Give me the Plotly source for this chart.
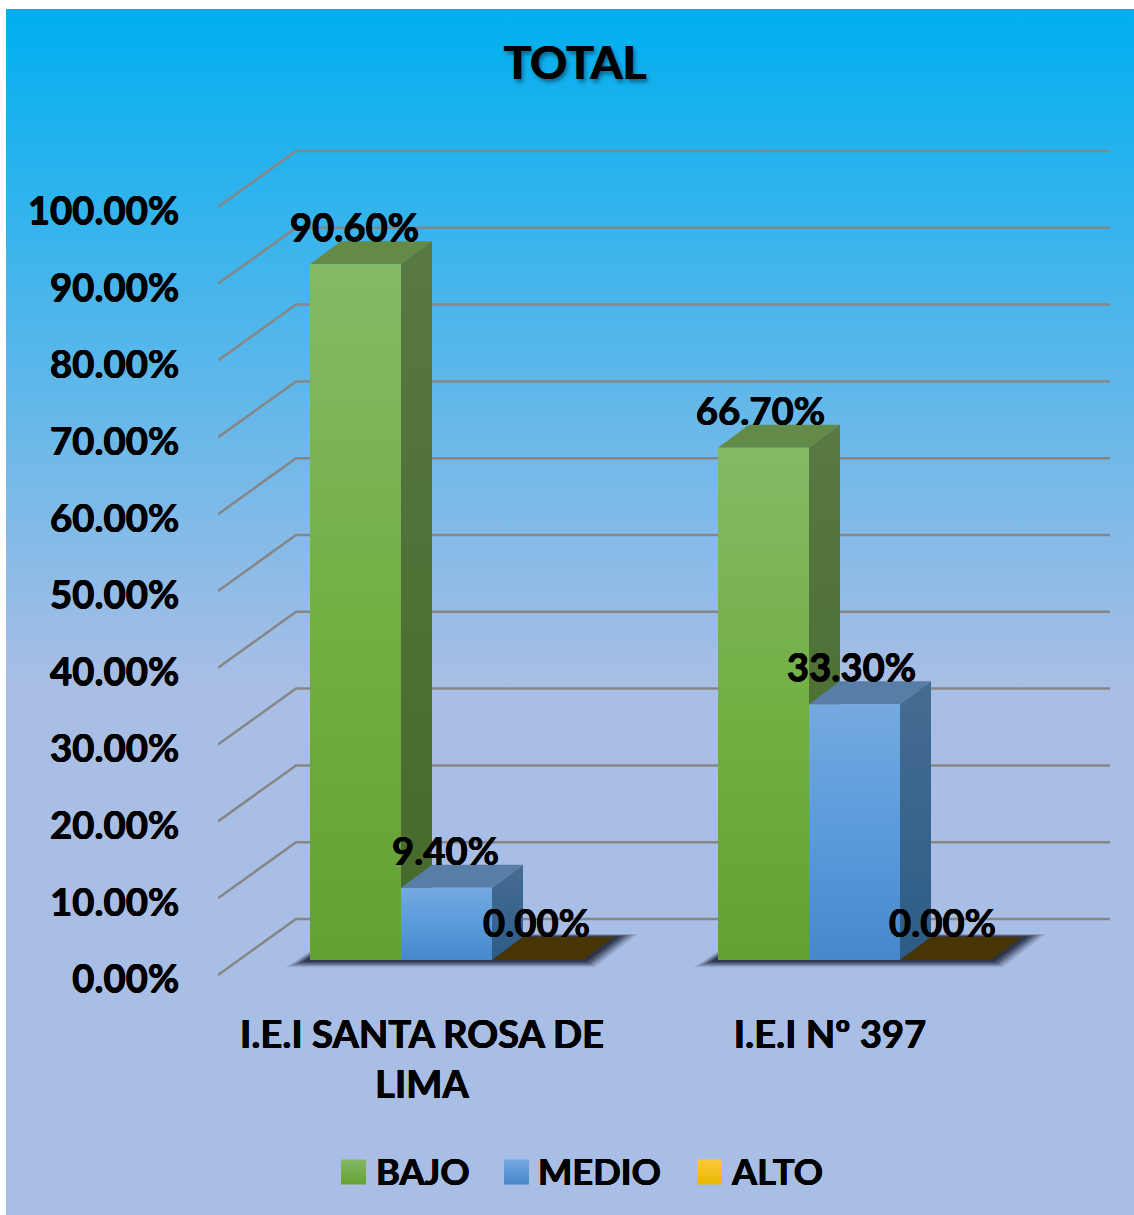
import base64
import plotly.graph_objects as go

# ---- data ----
categories = ["I.E.I SANTA ROSA DE<br>LIMA", "I.E.I Nº 397"]
series_names = ["BAJO", "MEDIO", "ALTO"]
bajo = [90.6, 66.7]
medio = [9.4, 33.3]
alto = [0.0, 0.0]
tick_values = [0, 10, 20, 30, 40, 50, 60, 70, 80, 90, 100]
tick_labels = ["0.00%", "10.00%", "20.00%", "30.00%", "40.00%", "50.00%",
               "60.00%", "70.00%", "80.00%", "90.00%", "100.00%"]
title_text = "TOTAL"

# ---- style ----
FONT = "Lato, Carlito, Calibri, sans-serif"
THICK = "0.4px 0 0 black, -0.4px 0 0 black, 0 0.3px 0 black"
W, H = 1134, 1215
L, R, T, B = 218, 1110, 130, 975   # B: page row of the 0% tick
PB = 1205                           # plot area runs lower to hold the legend row
PX_X = 408.0   # pixels per category
PX_Y = 7.68    # pixels per percent point
XMIN, XMAX = -0.5, -0.5 + (R - L) / PX_X
YMAX = (B - T) / PX_Y
YMIN = (B - PB) / PX_Y
px = lambda p: p / PX_X
py = lambda p: p / PX_Y
CX = lambda p: (p - 422) / PX_X   # legend placement, page px to axis
CY = lambda p: (B - p) / PX_Y

WALL_DX, WALL_DY = px(78), py(56)
BAR_DX, BAR_DY = px(31), py(23)
BASE = py(15)
BAR_W = px(91)
BAR_START = px(-112)

styles = [
    dict(front=["#85B966", "#72B044", "#64A134"], side=["#587942", "#44692A"], top="#648A48"),
    dict(front=["#75A9E0", "#5A9BDC", "#4688CB"], side=["#476C91", "#2C5C87"], top="#587DA6"),
    dict(front=["#FFC83A", "#FFC000", "#E8B800"], side=["#8A6A10", "#7A5C00"], top="#473504"),
]
legend_grad = [("#85B966", "#64A134"), ("#75A9E0", "#4688CB"), ("#FFC83A", "#E8B800")]
legend_px = [353.5, 516.5, 709.5]
legend_text_px = [376, 538, 732]


def grad(cols):
    # colorscale position 0 is the bottom of the shape
    cols = cols[::-1]
    n = len(cols) - 1
    return dict(type="vertical", colorscale=[[i / n, c] for i, c in enumerate(cols)])


fig = go.Figure()

# gridlines: side wall and back wall
gx, gy = [], []
for v in tick_values:
    gx += [XMIN, XMIN + WALL_DX, XMAX, None]
    gy += [v, v + WALL_DY, v + WALL_DY, None]
fig.add_trace(go.Scatter(x=gx, y=gy, mode="lines", showlegend=False, hoverinfo="skip",
                         line=dict(color="#868686", width=2.5)))

values = [bajo, medio, alto]

# soft floor shadow
for c in range(len(categories)):
    x0 = c + BAR_START
    x1 = x0 + BAR_W * len(values)
    for grow, op in [(24, 0.12), (20, 0.18), (16, 0.25), (12, 0.35), (7, 0.5)]:
        e = px(grow)
        lo = BASE - py(grow * 0.3)
        hi = BASE + BAR_DY + py(grow * 0.12)
        fig.add_trace(go.Scatter(
            x=[x0 - e, x1 + e * 0.5, x1 + BAR_DX + e, x0 + BAR_DX - e * 0.2, x0 - e],
            y=[lo, lo, hi, hi, lo],
            mode="lines", fill="toself", line=dict(width=0), showlegend=False, hoverinfo="skip",
            fillcolor=f"rgba(20,25,45,{op})"))

# 3-D bars
for s, vals in enumerate(values):
    st = styles[s]
    for c, v in enumerate(vals):
        x0 = c + BAR_START + s * BAR_W
        x1 = x0 + BAR_W
        y0 = BASE
        y1 = BASE + v
        fig.add_trace(go.Scatter(
            x=[x0, x1, x1 + BAR_DX, x0 + BAR_DX, x0],
            y=[y1, y1, y1 + BAR_DY, y1 + BAR_DY, y1],
            mode="lines", fill="toself", line=dict(width=0), fillcolor=st["top"],
            showlegend=False, hoverinfo="skip"))
        if v > 0:
            fig.add_trace(go.Scatter(
                x=[x1, x1 + BAR_DX, x1 + BAR_DX, x1, x1],
                y=[y0, y0 + BAR_DY, y1 + BAR_DY, y1, y0],
                mode="lines", fill="toself", line=dict(width=0),
                fillgradient=grad(st["side"]), showlegend=False, hoverinfo="skip"))
            fig.add_trace(go.Scatter(
                x=[x0, x1, x1, x0, x0],
                y=[y0, y0, y1, y1, y0],
                mode="lines", fill="toself", line=dict(width=0),
                fillgradient=grad(st["front"]), showlegend=False, hoverinfo="skip"))

# data labels
lx, ly, lt = [], [], []
for s, vals in enumerate(values):
    for c, v in enumerate(vals):
        lx.append(c + BAR_START + s * BAR_W + BAR_W / 2 + px(-1 - 2 * c))
        ly.append(BASE + v + py(32.5))
        lt.append(f"{v:.2f}%")
fig.add_trace(go.Scatter(x=lx, y=ly, text=lt, mode="text", textposition="middle center",
                         showlegend=False, hoverinfo="skip", cliponaxis=False,
                         textfont=dict(family=FONT, size=38.3, color="black", weight="bold", shadow=THICK)))

# legend row (larger swatches than the built-in legend permits)
for name, (c0, c1), p, tp in zip(series_names, legend_grad, legend_px, legend_text_px):
    fig.add_trace(go.Scatter(x=[CX(p)], y=[CY(1172)], name=name, mode="markers",
                             cliponaxis=False, showlegend=False, hoverinfo="skip",
                             marker=dict(symbol="square", size=25, color=c0,
                                         gradient=dict(type="vertical", color=c1))))
    fig.add_trace(go.Scatter(x=[CX(tp)], y=[CY(1176)], text=[name], name=name,
                             mode="text", textposition="middle right",
                             cliponaxis=False, showlegend=False, hoverinfo="skip",
                             textfont=dict(family=FONT, size=36.3, color="black", weight="bold", shadow=THICK)))

# page background gradient as an image under the plot
svg = ('<svg xmlns="http://www.w3.org/2000/svg" width="1128" height="1206" preserveAspectRatio="none">'
       '<defs><linearGradient id="g" x1="0" y1="0" x2="0" y2="1">'
       '<stop offset="0" stop-color="#00AFF0"/><stop offset="0.56" stop-color="#A9BEE5"/>'
       '<stop offset="1" stop-color="#A9BEE5"/></linearGradient></defs>'
       '<rect width="1128" height="1206" fill="url(#g)"/></svg>')
uri = "data:image/svg+xml;base64," + base64.b64encode(svg.encode()).decode()

fig.update_layout(
    width=W, height=H,
    margin=dict(l=L, r=W - R, t=T, b=H - PB, pad=0, autoexpand=False),
    paper_bgcolor="white", plot_bgcolor="rgba(0,0,0,0)", showlegend=False,
    images=[dict(source=uri, xref="paper", yref="paper", layer="below",
                 x=(6 - L) / (R - L), y=1 + (T - 9) / (PB - T),
                 sizex=1128 / (R - L), sizey=1206 / (PB - T),
                 xanchor="left", yanchor="top", sizing="stretch")],
    title=dict(text=title_text, x=575 / W, xref="container", xanchor="center",
               y=1 - 63 / H, yref="container", yanchor="middle",
               font=dict(family=FONT, size=46, color="black", weight="bold",
                         shadow="0.5px 0 0 black, -0.5px 0 0 black, 2px 3px 4px rgba(0,0,0,0.45)")),
    xaxis=dict(range=[XMIN, XMAX], tickvals=[0, 1], ticktext=categories,
               anchor="free", position=(PB - B) / (PB - T),
               showgrid=False, zeroline=False, showline=False, automargin=False,
               ticks="outside", ticklen=26, tickcolor="rgba(0,0,0,0)",
               tickfont=dict(family=FONT, size=38.2, color="black", weight="bold", shadow=THICK)),
    yaxis=dict(range=[YMIN, YMAX], tickvals=tick_values, ticktext=tick_labels,
               showgrid=False, zeroline=False, showline=False, automargin=False,
               ticks="outside", ticklen=30, tickcolor="rgba(0,0,0,0)", ticklabelshift=4,
               tickfont=dict(family=FONT, size=38.3, color="black", weight="bold", shadow=THICK)),
    hovermode=False,
)

fig.write_html("out.html", config=dict(displayModeBar=False),
               post_script="document.body.style.margin='0';document.body.style.overflow='hidden';")
